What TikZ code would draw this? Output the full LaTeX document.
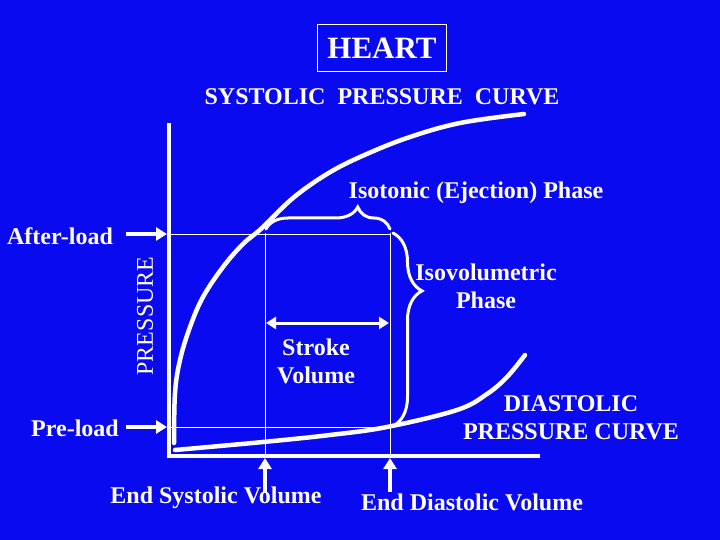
\documentclass[tikz,border=0pt]{standalone}
\usepackage{fontspec}
\setmainfont{Liberation Serif}
\usetikzlibrary{arrows.meta,decorations.pathreplacing}
\definecolor{bg}{RGB}{10,10,240}
\begin{document}
\begin{tikzpicture}[x=1pt,y=-1pt,
  lbl/.style={text=white,font=\fontsize{24}{28}\selectfont\bfseries,inner sep=0pt,align=center},
  lblr/.style={text=white,font=\fontsize{24}{28}\selectfont,inner sep=0pt,align=center},
  axisline/.style={white,line width=4pt,line join=miter},
  guide/.style={white,line width=1pt},
  curve/.style={white,line width=4.5pt,line cap=round},
  arr/.style={white,line width=4pt,-{Triangle[length=11pt,width=13pt]}},
  dblarr/.style={white,line width=3pt,{Triangle[length=10pt,width=12pt]}-{Triangle[length=10pt,width=12pt]}},
  bracestyle/.style={white,line width=3pt,line cap=round,decorate}]
\fill[bg] (0,0) rectangle (720,540);
\useasboundingbox (0,0) rectangle (720,540);

% title
\node[lbl,font=\fontsize{31}{34}\selectfont\bfseries,draw=white,line width=0.8pt,minimum width=129pt,minimum height=47pt] (title) at (382,48) {HEART};
\node[lbl] (sys) at (382,97) {SYSTOLIC\ \ PRESSURE\ \ CURVE};

% coordinates
\coordinate (ytop) at (169,123);
\coordinate (origin) at (169,456);
\coordinate (xend) at (540,456);
\coordinate (afA) at (171,234);
\coordinate (afB) at (390,234);
\coordinate (prA) at (171,427);
\coordinate (prB) at (392,427);
\coordinate (esvT) at (265,233);
\coordinate (esvB) at (265,456);
\coordinate (edvT) at (390,233);
\coordinate (edvB) at (390,456);

% guide lines
\draw[guide] (afA) -- (afB);
\draw[guide] (prA) -- (prB);
\draw[guide] (esvT) -- (esvB);
\draw[guide] (edvT) -- (edvB);

% axes
\draw[axisline] (ytop) -- (origin) -- (xend);

% systolic curve
\draw[curve] plot[smooth,tension=0.6] coordinates {(174,443) (175,393) (180,360) (190,327) (203,297) (223,267) (243,244) (262,228) (293,198) (327,174) (360,157) (407,138) (460,123) (524,114)};
% diastolic curve
\draw[curve] plot[smooth,tension=0.6] coordinates {(175,450) (263,442) (330,435) (387,427) (457,410) (487,394) (507,377) (525,355)};

% braces
\draw[bracestyle,decoration={brace,amplitude=22pt,aspect=0.74}] (266,229) -- (390,229);
\draw[bracestyle,decoration={brace,amplitude=29pt,aspect=0.30}] (393,233) -- (393,426);

% labels
\node[lbl] (iso) at (476,193) {Isotonic (Ejection) Phase};
\node[lbl] (after) at (60,236) {After-load};
\node[lbl] (pre) at (75,428) {Pre-load};
\node[lblr,rotate=90] (press) at (145,316) {PRESSURE};
\node[lbl] (isovol) at (486,286) {Isovolumetric\\Phase};
\node[lbl] (stroke) at (316,361) {Stroke\\Volume};
\node[lbl] (dias) at (571,418) {DIASTOLIC\\PRESSURE CURVE};
\node[lbl] (esv) at (216,498) {End Systolic Volume};
\node[lbl] (edv) at (472,502) {End Diastolic Volume};

% arrows
\coordinate (afArrS) at (126,234);
\coordinate (afArrE) at (167,234);
\coordinate (prArrS) at (126,427);
\coordinate (prArrE) at (167,427);
\coordinate (esvArrS) at (265,492);
\coordinate (esvArrE) at (265,458);
\coordinate (edvArrS) at (390,492);
\coordinate (edvArrE) at (390,458);
\coordinate (svL) at (266,323);
\coordinate (svR) at (389,323);
\draw[arr] (afArrS) -- (afArrE);
\draw[arr] (prArrS) -- (prArrE);
\draw[arr] (esvArrS) -- (esvArrE);
\draw[arr] (edvArrS) -- (edvArrE);
\draw[dblarr] (svL) -- (svR);
\end{tikzpicture}
\end{document}
